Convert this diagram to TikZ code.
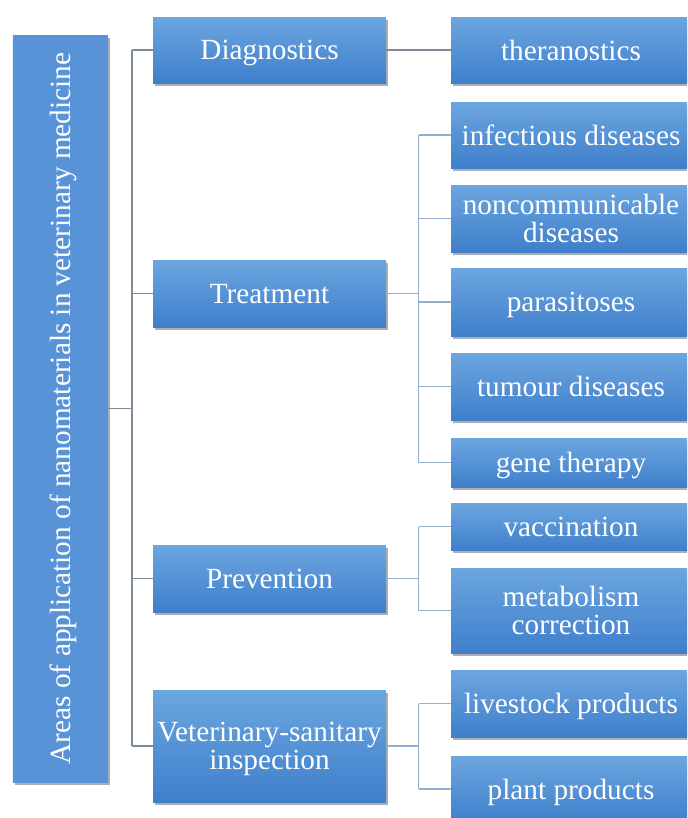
\documentclass[tikz,border=0pt]{standalone}
\usepackage{fontspec}
\setmainfont{Liberation Serif}
\usetikzlibrary{positioning, calc, shadows}

\definecolor{boxtop}{HTML}{6CA6E0}
\definecolor{boxbottom}{HTML}{3F7FCB}
\definecolor{rootblue}{HTML}{5893D8}
\definecolor{maingray}{HTML}{7F8A99}
\definecolor{subgray}{HTML}{94AECD}

\begin{document}
\begin{tikzpicture}[
				x=0.3mm, y=-0.3mm,
				% Define styles
				areabox/.style={rectangle, draw=none, top color=boxtop, bottom color=boxbottom, text=white, align=center, inner sep=1mm,
					font=\fontsize{25}{24}\selectfont, text depth=0pt, execute at begin node={\rule{0pt}{0.68em}},
					drop shadow={shadow xshift=0.6mm, shadow yshift=-0.9mm, opacity=0.45, fill=black!70}},
				groupbox/.style={areabox, minimum width=69.9mm, minimum height=20.1mm},
				leafbox/.style={areabox, minimum width=72mm, minimum height=20.1mm},
				rootbox/.style={areabox, fill=rootblue, top color=rootblue, bottom color=rootblue, rotate=90, minimum width=224.1mm, minimum height=28.5mm},
				mainline/.style={draw=maingray, line width=0.5mm},
				subline/.style={draw=subgray, line width=0.5mm}
				]
				
				\useasboundingbox (0,0) rectangle (687,818);
				\clip (0,0) rectangle (687,818);
				
				% Root box
				\node[rootbox] (root) at (60.5,408.5) {Areas of application of nanomaterials in veterinary medicine};
				
				% Main groups
				\node[groupbox, minimum height=19.8mm] (diag) at (269.5,50) {Diagnostics};
				\node[groupbox] (treat) at (269.5,293.5) {Treatment};
				\node[groupbox] (prev) at (269.5,578.5) {Prevention};
				\node[groupbox, minimum height=33.6mm] (vet) at (269.5,746) {Veterinary-sanitary\\inspection};
				
				% Leaves
				\node[leafbox, minimum height=19.8mm] (thera) at (571,50) {theranostics};
				\node[leafbox, minimum height=19.8mm] (infect) at (571,135) {infectious diseases};
				\node[leafbox] (noncomm) at (571,218.5) {noncommunicable\\diseases};
				\node[leafbox, minimum height=20.4mm] (parasit) at (571,302) {parasitoses};
				\node[leafbox] (tumour) at (571,386.5) {tumour diseases};
				\node[leafbox, minimum height=14.7mm] (gene) at (571,462.5) {gene therapy};
				\node[leafbox, minimum height=14.1mm] (vacc) at (571,526.5) {vaccination};
				\node[leafbox, minimum height=25.5mm] (metab) at (571,610.5) {metabolism\\correction};
				\node[leafbox] (livestock) at (571,703.5) {livestock products};
				\node[leafbox, minimum height=19.8mm] (plant) at (571,789) {plant products};
				
				% Trunk positions
				\coordinate (trunkA) at (132,0);
				\coordinate (trunkB) at (418.5,0);
				
				% Root to main groups
				\draw[mainline] (root.south) -- (root.south -| trunkA);
				\draw[mainline] (trunkA |- diag) -- (trunkA |- vet);
				\draw[mainline] (trunkA |- diag) -- (diag.west);
				\draw[mainline] (trunkA |- treat) -- (treat.west);
				\draw[mainline] (trunkA |- prev) -- (prev.west);
				\draw[mainline] (trunkA |- vet) -- (vet.west);
				
				% Diagnostics
				\draw[mainline] (diag.east) -- (thera.west);
				
				% Treatment
				\draw[subline] (treat.east) -- (trunkB |- treat);
				\draw[subline] (trunkB |- infect) -- (trunkB |- gene);
				\draw[subline] (trunkB |- infect) -- (infect.west);
				\draw[subline] (trunkB |- noncomm) -- (noncomm.west);
				\draw[subline] (trunkB |- parasit) -- (parasit.west);
				\draw[subline] (trunkB |- tumour) -- (tumour.west);
				\draw[subline] (trunkB |- gene) -- (gene.west);
				
				% Prevention
				\draw[subline] (prev.east) -- (trunkB |- prev);
				\draw[subline] (trunkB |- vacc) -- (trunkB |- metab);
				\draw[subline] (trunkB |- vacc) -- (vacc.west);
				\draw[subline] (trunkB |- metab) -- (metab.west);
				
				% Veterinary-sanitary inspection
				\draw[subline] (vet.east) -- (trunkB |- vet);
				\draw[subline] (trunkB |- livestock) -- (trunkB |- plant);
				\draw[subline] (trunkB |- livestock) -- (livestock.west);
				\draw[subline] (trunkB |- plant) -- (plant.west);
				
			\end{tikzpicture}
\end{document}
